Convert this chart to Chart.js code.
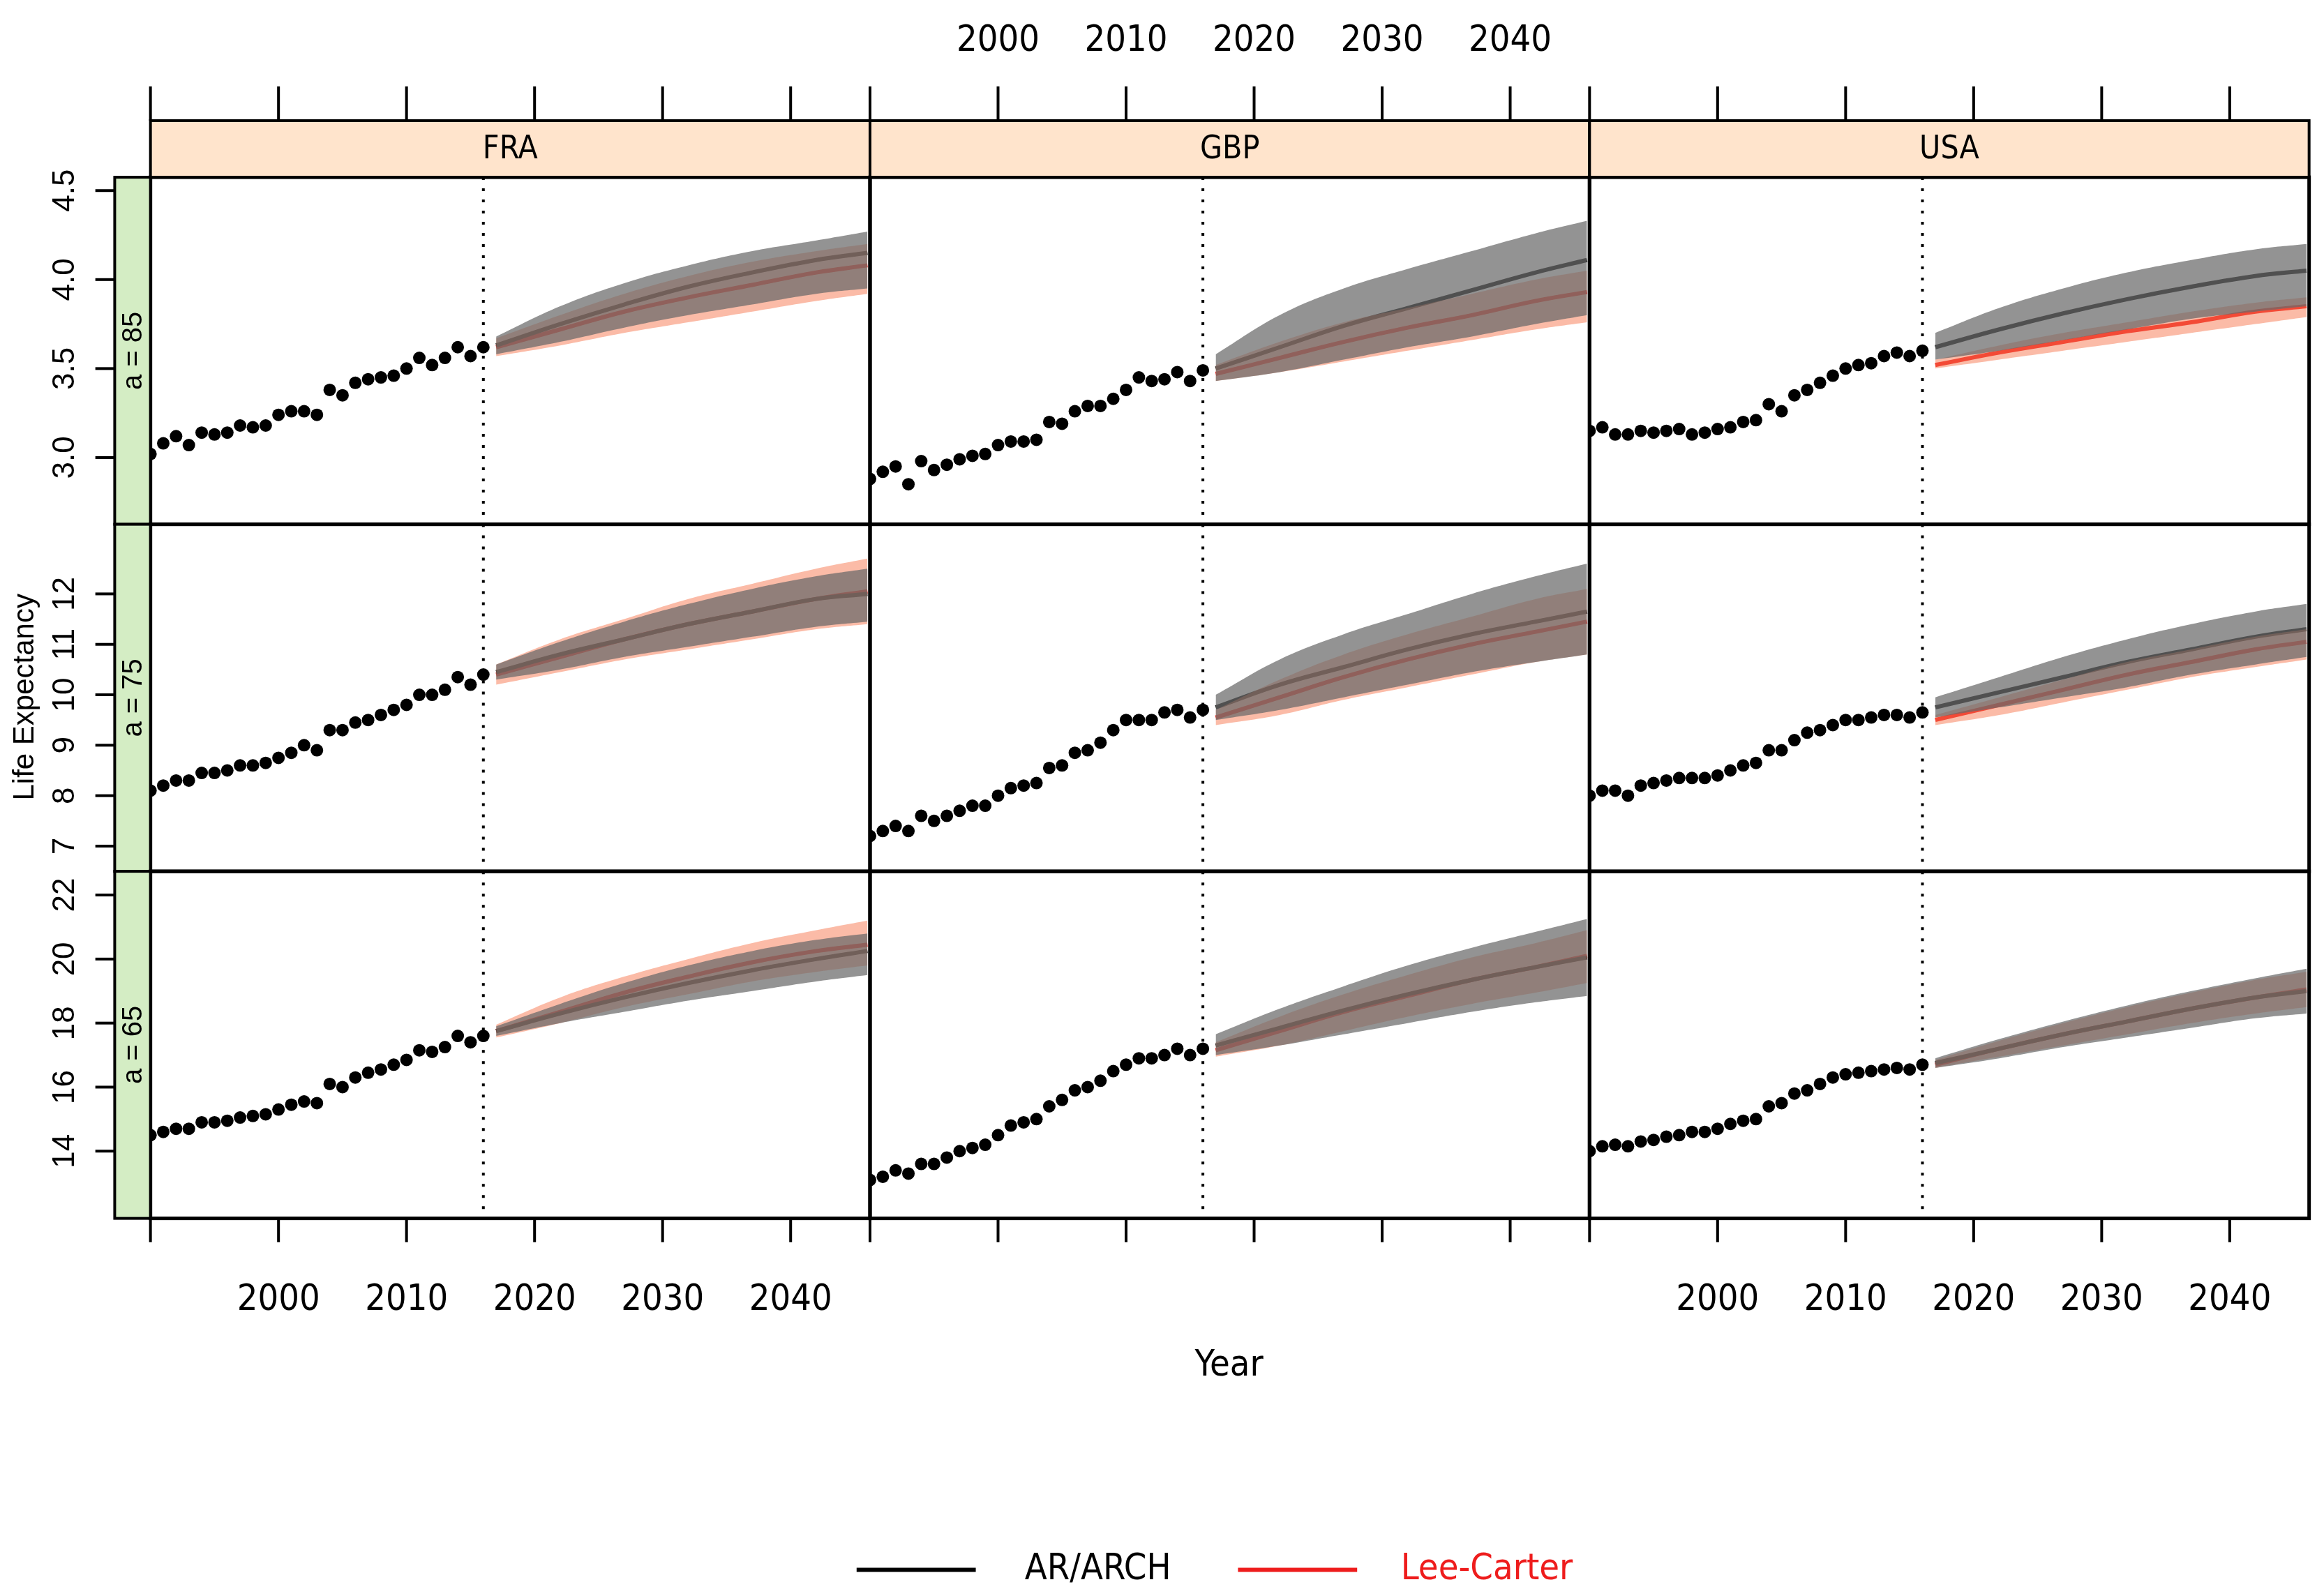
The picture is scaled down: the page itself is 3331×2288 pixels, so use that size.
<!DOCTYPE html>
<html><head><meta charset="utf-8">
<script src="https://cdn.jsdelivr.net/npm/chart.js@4.4.1/dist/chart.umd.min.js"></script>
<style>
body{margin:0;background:#fff}
#wrap{position:relative;width:3331px;height:2288px}
canvas{position:absolute;left:0;top:0}
</style></head>
<body><div id="wrap"></div>
<script>
// historical years and forecast years
const years = [1990,1991,1992,1993,1994,1995,1996,1997,1998,1999,2000,2001,2002,2003,2004,2005,2006,2007,2008,2009,2010,2011,2012,2013,2014,2015,2016];
const fyears = [2017,2022,2027,2032,2037,2042,2046];
const countries = ["FRA","GBP","USA"];
const ages = ["a = 85","a = 75","a = 65"];

// observed life expectancy, rows = age, cols = country
const obs85 = {
  FRA:[3.02,3.08,3.12,3.07,3.14,3.13,3.14,3.18,3.17,3.18,3.24,3.26,3.26,3.24,3.38,3.35,3.42,3.44,3.45,3.46,3.5,3.56,3.52,3.56,3.62,3.57,3.62],
  GBP:[2.88,2.92,2.95,2.85,2.98,2.93,2.96,2.99,3.01,3.02,3.07,3.09,3.09,3.1,3.2,3.19,3.26,3.29,3.29,3.33,3.38,3.45,3.43,3.44,3.48,3.43,3.49],
  USA:[3.15,3.17,3.13,3.13,3.15,3.14,3.15,3.16,3.13,3.14,3.16,3.17,3.2,3.21,3.3,3.26,3.35,3.38,3.42,3.46,3.5,3.52,3.53,3.57,3.59,3.57,3.6]
};
const obs75 = {
  FRA:[8.1,8.2,8.3,8.3,8.45,8.45,8.5,8.6,8.6,8.65,8.75,8.85,9.0,8.9,9.3,9.3,9.45,9.5,9.6,9.7,9.8,10.0,10.0,10.1,10.35,10.2,10.4],
  GBP:[7.2,7.3,7.4,7.3,7.6,7.5,7.6,7.7,7.8,7.8,8.0,8.15,8.2,8.25,8.55,8.6,8.85,8.9,9.05,9.3,9.5,9.5,9.5,9.65,9.7,9.55,9.7],
  USA:[8.0,8.1,8.1,8.0,8.2,8.25,8.3,8.35,8.35,8.35,8.4,8.5,8.6,8.65,8.9,8.9,9.1,9.25,9.3,9.4,9.5,9.5,9.55,9.6,9.6,9.55,9.65]
};
const obs65 = {
  FRA:[14.5,14.6,14.7,14.7,14.9,14.9,14.95,15.05,15.1,15.15,15.3,15.45,15.55,15.5,16.1,16.0,16.3,16.45,16.55,16.7,16.85,17.15,17.1,17.25,17.6,17.4,17.6],
  GBP:[13.1,13.2,13.4,13.3,13.6,13.6,13.8,14.0,14.1,14.2,14.5,14.8,14.9,15.0,15.4,15.6,15.9,16.0,16.2,16.5,16.7,16.9,16.9,17.0,17.2,17.0,17.2],
  USA:[14.0,14.15,14.2,14.15,14.3,14.35,14.45,14.5,14.6,14.6,14.7,14.85,14.95,15.0,15.4,15.5,15.8,15.9,16.1,16.3,16.4,16.45,16.5,16.55,16.6,16.55,16.7]
};

// forecasts: [mean, lower, upper]
const ar85 = {
  FRA:[[3.63,3.75,3.86,3.96,4.04,4.11,4.15],[3.58,3.65,3.73,3.8,3.86,3.92,3.95],[3.68,3.85,3.98,4.08,4.16,4.22,4.27]],
  GBP:[[3.5,3.62,3.74,3.84,3.94,4.04,4.11],[3.43,3.48,3.55,3.62,3.68,3.75,3.8],[3.58,3.8,3.95,4.06,4.16,4.26,4.33]],
  USA:[[3.62,3.72,3.81,3.89,3.96,4.02,4.05],[3.55,3.6,3.66,3.72,3.78,3.82,3.85],[3.7,3.84,3.95,4.04,4.11,4.17,4.2]]
};
const lc85 = {
  FRA:[[3.62,3.72,3.82,3.9,3.97,4.04,4.08],[3.57,3.63,3.7,3.76,3.82,3.88,3.92],[3.67,3.8,3.92,4.02,4.1,4.16,4.2]],
  GBP:[[3.47,3.56,3.65,3.73,3.8,3.88,3.93],[3.43,3.48,3.54,3.6,3.66,3.72,3.76],[3.52,3.65,3.76,3.84,3.92,4.0,4.05]],
  USA:[[3.52,3.59,3.65,3.71,3.76,3.82,3.85],[3.5,3.55,3.6,3.65,3.7,3.75,3.79],[3.55,3.63,3.7,3.76,3.82,3.87,3.9]]
};
const ar75 = {
  FRA:[[10.45,10.8,11.1,11.4,11.65,11.9,12.0],[10.3,10.5,10.75,10.95,11.15,11.35,11.45],[10.6,11.05,11.45,11.8,12.1,12.35,12.5]],
  GBP:[[9.75,10.2,10.55,10.9,11.2,11.45,11.65],[9.5,9.7,9.95,10.2,10.45,10.65,10.8],[10.0,10.7,11.2,11.6,12.0,12.35,12.6]],
  USA:[[9.75,10.05,10.35,10.65,10.9,11.15,11.3],[9.55,9.75,9.95,10.15,10.4,10.6,10.75],[9.95,10.35,10.75,11.1,11.4,11.65,11.8]]
};
const lc75 = {
  FRA:[[10.4,10.75,11.1,11.4,11.65,11.9,12.05],[10.2,10.45,10.7,10.9,11.1,11.3,11.4],[10.6,11.1,11.5,11.9,12.2,12.5,12.7]],
  GBP:[[9.55,9.95,10.35,10.7,11.0,11.25,11.45],[9.4,9.6,9.9,10.15,10.4,10.65,10.8],[9.7,10.3,10.8,11.2,11.55,11.9,12.1]],
  USA:[[9.5,9.8,10.1,10.4,10.65,10.9,11.05],[9.4,9.6,9.85,10.1,10.35,10.55,10.7],[9.6,9.95,10.3,10.65,10.9,11.15,11.3]]
};
const ar65 = {
  FRA:[[17.75,18.3,18.8,19.25,19.65,20.0,20.25],[17.6,18.0,18.35,18.7,19.0,19.3,19.5],[17.9,18.6,19.25,19.8,20.25,20.6,20.8]],
  GBP:[[17.3,17.85,18.4,18.9,19.35,19.75,20.05],[17.0,17.3,17.65,18.0,18.35,18.65,18.85],[17.65,18.45,19.15,19.8,20.35,20.85,21.25]],
  USA:[[16.75,17.2,17.65,18.05,18.45,18.8,19.0],[16.6,16.9,17.25,17.55,17.85,18.15,18.3],[16.9,17.5,18.05,18.55,19.0,19.4,19.7]]
};
const lc65 = {
  FRA:[[17.75,18.35,18.95,19.45,19.9,20.25,20.45],[17.55,18.0,18.5,18.9,19.3,19.6,19.8],[17.95,18.8,19.45,20.0,20.5,20.9,21.2]],
  GBP:[[17.15,17.75,18.35,18.85,19.35,19.75,20.1],[16.95,17.3,17.75,18.2,18.6,18.95,19.25],[17.4,18.2,18.9,19.5,20.05,20.5,20.9]],
  USA:[[16.7,17.2,17.65,18.05,18.45,18.8,19.05],[16.6,16.95,17.3,17.65,18.0,18.3,18.5],[16.85,17.45,18.0,18.5,18.95,19.35,19.6]]
};

const xTicks = [1990,2000,2010,2020,2030,2040];
const yTicks = [[3.0,3.5,4.0,4.5],[7,8,9,10,11,12],[14,16,18,20,22]];
const yTickLabels = [["3.0","3.5","4.0","4.5"],["7","8","9","10","11","12"],["14","16","18","20","22"]];
const yRanges = [[2.625,4.575],[6.5,13.38],[11.9,22.74]];
const obsRows = [obs85,obs75,obs65], arRows = [ar85,ar75,ar65], lcRows = [lc85,lc75,lc65];

const W = 3331, H = 2288, S = W / 1560;
const XF = "'DejaVu Sans Condensed'", YF = "'Liberation Sans'";

const xy = (xs, ys) => xs.map((v, i) => ({x: v, y: ys[i]}));

const panelPlugin = {
  id: "panel",
  afterDraw(chart) {
    const {ctx, chartArea: a} = chart;
    const x = chart.scales.x, y = chart.scales.y;
    const {c, r} = chart.options.plugins.panel;
    ctx.save();
    ctx.strokeStyle = "#000"; ctx.fillStyle = "#000";
    // dotted forecast origin
    ctx.lineWidth = 4; ctx.setLineDash([4, 12]);
    const xd = x.getPixelForValue(2016);
    ctx.beginPath(); ctx.moveTo(xd, a.top); ctx.lineTo(xd, a.bottom); ctx.stroke();
    ctx.setLineDash([]);
    ctx.lineWidth = 5;
    ctx.strokeRect(a.left, a.top, a.width, a.height);
    ctx.lineWidth = 4;
    if (r === 0) {
      const st = 81 * S;
      ctx.fillStyle = "#FFE4CC";
      ctx.fillRect(a.left, st, a.width, a.top - st);
      ctx.strokeRect(a.left, st, a.width, a.top - st);
      ctx.fillStyle = "#000";
      ctx.font = "46px " + XF; ctx.textAlign = "center"; ctx.textBaseline = "middle";
      ctx.fillText(countries[c], (a.left + a.right) / 2, (st + a.top) / 2 + 2);
      ctx.beginPath(); ctx.moveTo(a.left, st); ctx.lineTo(a.right, st); ctx.stroke();
      xTicks.forEach(t => {
        const px = x.getPixelForValue(t);
        ctx.beginPath(); ctx.moveTo(px, st); ctx.lineTo(px, 58 * S); ctx.stroke();
        if (c === 1 && t > 1990) { ctx.font = "52px " + XF; ctx.fillText(String(t), px, 28 * S); }
      });
    }
    if (r === 2) {
      xTicks.forEach(t => {
        const px = x.getPixelForValue(t);
        ctx.beginPath(); ctx.moveTo(px, a.bottom); ctx.lineTo(px, a.bottom + 16 * S); ctx.stroke();
        if (c !== 1 && t > 1990) {
          ctx.font = "52px " + XF; ctx.textAlign = "center"; ctx.textBaseline = "middle";
          ctx.fillText(String(t), px, 873 * S);
        }
      });
    }
    if (c === 0) {
      const sl = 77 * S;
      ctx.fillStyle = "#D4EDC4";
      ctx.fillRect(sl, a.top, a.left - sl, a.height);
      ctx.strokeRect(sl, a.top, a.left - sl, a.height);
      ctx.fillStyle = "#000";
      ctx.save();
      ctx.translate((sl + a.left) / 2 + 2, (a.top + a.bottom) / 2);
      ctx.rotate(-Math.PI / 2);
      ctx.font = "40px " + YF; ctx.textAlign = "center"; ctx.textBaseline = "middle";
      ctx.fillText(ages[r], 0, 0);
      ctx.restore();
      yTicks[r].forEach((t, i) => {
        const py = y.getPixelForValue(t);
        ctx.beginPath(); ctx.moveTo(sl, py); ctx.lineTo(64 * S, py); ctx.stroke();
        ctx.save();
        ctx.translate(44 * S, py); ctx.rotate(-Math.PI / 2);
        ctx.font = "44px " + YF; ctx.textAlign = "center"; ctx.textBaseline = "middle";
        ctx.fillText(yTickLabels[r][i], 0, 0);
        ctx.restore();
      });
    }
    if (c === 0 && r === 0) {
      // global labels and legend
      ctx.textAlign = "center"; ctx.textBaseline = "middle";
      ctx.font = "52px " + XF;
      ctx.fillText("Year", 825 * S, 917 * S);
      ctx.save();
      ctx.translate(17 * S, 468 * S); ctx.rotate(-Math.PI / 2);
      ctx.font = "42px " + YF; ctx.fillText("Life Expectancy", 0, 0);
      ctx.restore();
      ctx.lineWidth = 6;
      ctx.beginPath(); ctx.moveTo(575 * S, 1054 * S); ctx.lineTo(655 * S, 1054 * S); ctx.stroke();
      ctx.fillText("AR/ARCH", 737 * S, 1054 * S);
      ctx.strokeStyle = "#EE1C1C"; ctx.fillStyle = "#EE1C1C";
      ctx.beginPath(); ctx.moveTo(831 * S, 1054 * S); ctx.lineTo(911 * S, 1054 * S); ctx.stroke();
      ctx.fillText("Lee-Carter", 998 * S, 1054 * S);
    }
    ctx.restore();
  }
};

const wrap = document.getElementById("wrap");
for (let r = 0; r < 3; r++) {
  for (let c = 0; c < 3; c++) {
    const k = countries[c];
    const ar = arRows[r][k], lc = lcRows[r][k];
    const cv = document.createElement("canvas");
    cv.width = W; cv.height = H;
    wrap.appendChild(cv);
    const left = (101 + 483 * c) * S, top = (119 + 233 * r) * S;
    const line = (data, color, fill) => ({
      type: "line", data: xy(fyears, data), borderColor: color, backgroundColor: fill || color,
      borderWidth: fill ? 0 : 6, pointRadius: 0, tension: 0.4, fill: false
    });
    const arLo = line(ar[1], "rgba(0,0,0,0)", "rgba(0,0,0,0)");
    const arHi = Object.assign(line(ar[2], "rgba(0,0,0,0)", "rgba(105,105,105,0.72)"), {fill: "-1"});
    const lcLo = line(lc[1], "rgba(0,0,0,0)", "rgba(0,0,0,0)");
    const lcHi = Object.assign(line(lc[2], "rgba(0,0,0,0)", "rgba(248,120,80,0.5)"), {fill: "-1"});
    new Chart(cv, {
      type: "line",
      data: {
        datasets: [
          arLo, arHi, lcLo, lcHi,
          line(ar[0], "#111111"),
          line(lc[0], "#EE1C1C"),
          {type: "line", data: xy(years, obsRows[r][k]), showLine: false, pointRadius: 9,
           pointBackgroundColor: "#000", pointBorderWidth: 0, borderColor: "#000"}
        ]
      },
      options: {
        responsive: false, animation: false, devicePixelRatio: 1,
        layout: {padding: {left: left, top: top, right: W - left - 483 * S, bottom: H - top - 233 * S}},
        scales: {
          x: {type: "linear", display: false, min: 1990, max: 2046.2},
          y: {display: false, min: yRanges[r][0], max: yRanges[r][1]}
        },
        plugins: {legend: {display: false}, tooltip: {enabled: false}, panel: {c: c, r: r}}
      },
      plugins: [panelPlugin]
    });
  }
}
</script>
</body></html>
